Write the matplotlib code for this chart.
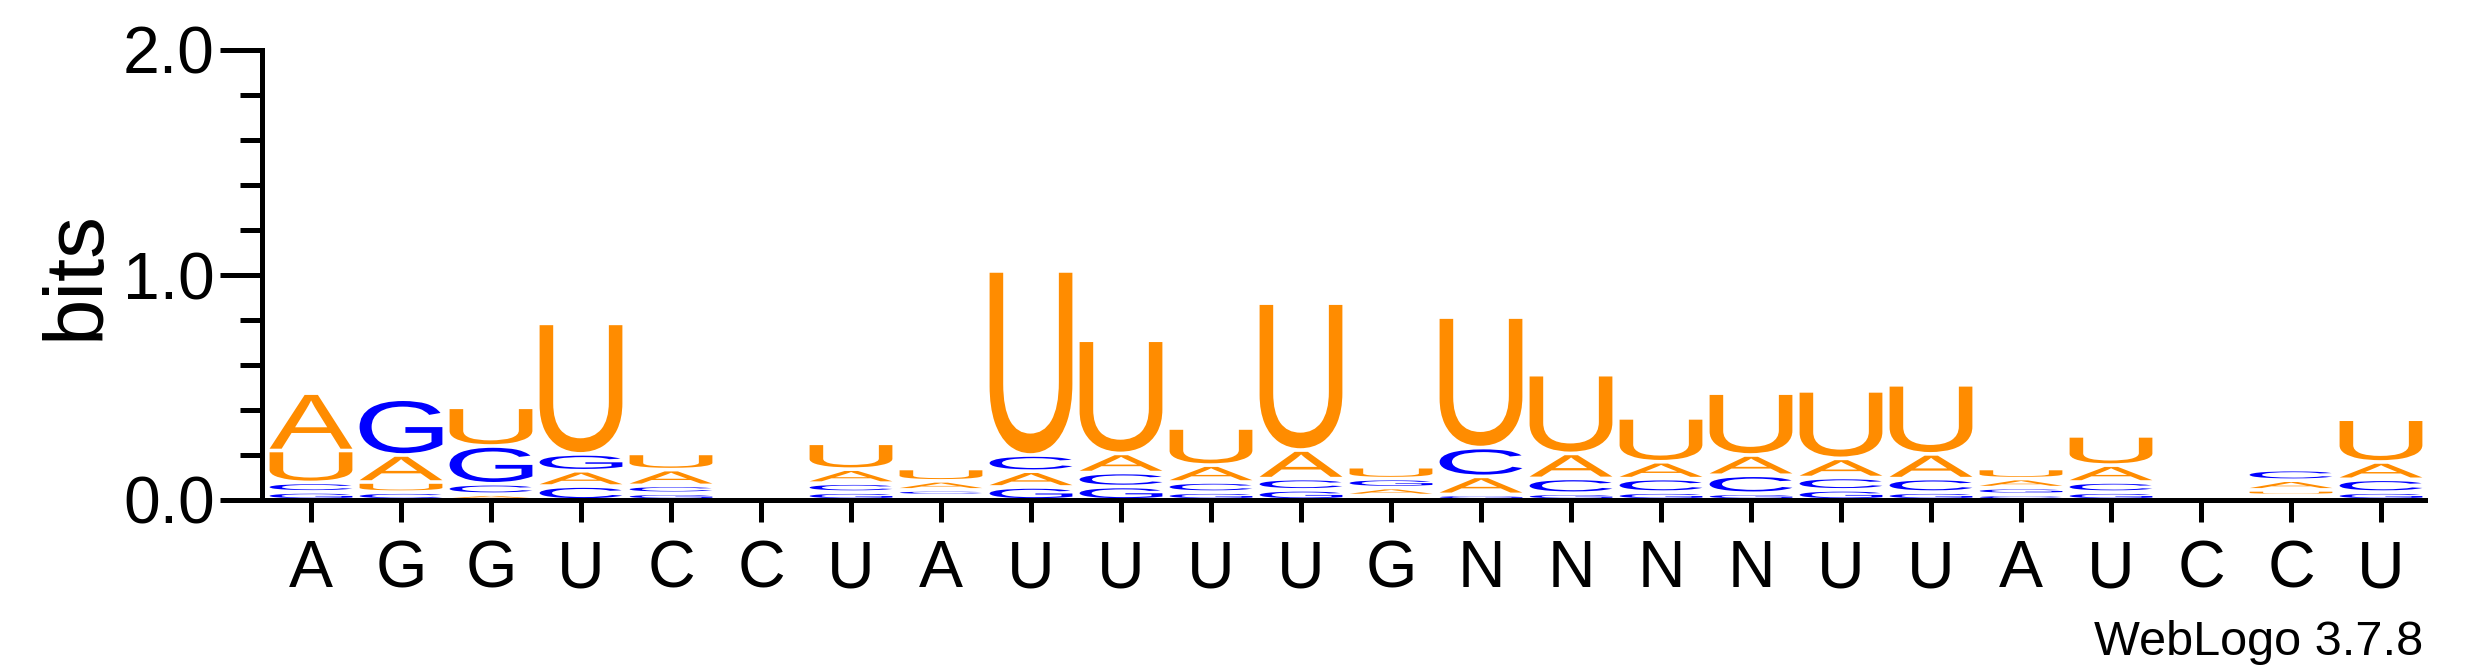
import matplotlib
matplotlib.use('Agg')
import matplotlib.pyplot as plt
from matplotlib.textpath import TextPath
from matplotlib.patches import PathPatch
from matplotlib.font_manager import FontProperties
from matplotlib.transforms import Affine2D
from matplotlib.ticker import MultipleLocator, FormatStrFormatter

plt.rcParams['font.family'] = ['Liberation Sans', 'DejaVu Sans']

# sequence written under the stacks
seq = list('AGGUCCUAUUUUGNNNNUUAUCCU')

# letter heights (bits) per position
bits_A = [0.255, 0.120, 0.026, 0.068, 0.070, 0.022, 0.062, 0.040, 0.070, 0.085, 0.075, 0.127,
          0.035, 0.080, 0.111, 0.075, 0.090, 0.085, 0.110, 0.040, 0.075, 0.022, 0.043, 0.077]
bits_C = [0.042, 0.035, 0.046, 0.062, 0.035, 0.020, 0.040, 0.025, 0.072, 0.062, 0.045, 0.050,
          0.020, 0.128, 0.066, 0.060, 0.080, 0.055, 0.060, 0.025, 0.045, 0.018, 0.047, 0.057]
bits_G = [0.036, 0.248, 0.168, 0.075, 0.030, 0.018, 0.035, 0.020, 0.058, 0.060, 0.035, 0.045,
          0.040, 0.025, 0.030, 0.035, 0.030, 0.045, 0.035, 0.030, 0.035, 0.015, 0.020, 0.035]
bits_U = [0.142, 0.045, 0.172, 0.580, 0.072, 0.020, 0.115, 0.055, 0.818, 0.503, 0.165, 0.653,
          0.053, 0.580, 0.350, 0.195, 0.275, 0.300, 0.307, 0.045, 0.130, 0.020, 0.025, 0.190]

heights = {'A': bits_A, 'C': bits_C, 'G': bits_G, 'U': bits_U}
# base pairing colour scheme
colors = {'A': '#FF8C00', 'U': '#FF8C00', 'C': '#0000FF', 'G': '#0000FF'}

fp = FontProperties(family='Liberation Sans')
glyphs = {ch: TextPath((0, 0), ch, size=1, prop=fp) for ch in 'ACGU'}


def draw_letter(ax, ch, xc, y0, h, width=0.92, pad=0.008):
    bot = y0 + pad
    top = y0 + h - pad
    # too small to show up
    if top - bot < 0.008:
        return
    p = glyphs[ch]
    ext = p.get_extents()
    t = (Affine2D().translate(-ext.x0, -ext.y0)
         .scale(width / ext.width, (top - bot) / ext.height)
         .translate(xc - width / 2, bot))
    ax.add_patch(PathPatch(t.transform_path(p), facecolor=colors[ch],
                           edgecolor='none', lw=0))


fig = plt.figure(figsize=(24.75, 6.67), dpi=100)
W, H = 2475, 667
ax = fig.add_axes([262 / W, 167 / H, (2425 - 262) / W, 450 / H])

n = len(seq)
for i in range(n):
    order = sorted('ACGU', key=lambda c: heights[c][i])
    y = 0.0
    for ch in order:
        draw_letter(ax, ch, i + 1, y, heights[ch][i])
        y += heights[ch][i]

ax.set_xlim(0.4556, 24.489)
ax.set_ylim(0, 2)

ax.spines['top'].set_visible(False)
ax.spines['right'].set_visible(False)
for s in ('left', 'bottom'):
    ax.spines[s].set_linewidth(3.6)
    ax.spines[s].set_capstyle('projecting')

ax.set_xticks(range(1, n + 1))
ax.set_xticklabels(seq)
ax.yaxis.set_major_locator(MultipleLocator(1.0))
ax.yaxis.set_minor_locator(MultipleLocator(0.2))
ax.yaxis.set_major_formatter(FormatStrFormatter('%.1f'))

ax.tick_params(axis='y', which='major', length=30.6, width=3.6, labelsize=47.5, pad=3.5)
ax.tick_params(axis='y', which='minor', length=15.5, width=3.6)
ax.tick_params(axis='x', which='major', length=15.8, width=3.6, labelsize=47.5, pad=12.5)

ax.set_ylabel('bits', fontsize=60, labelpad=5)

fig.text(2423 / W, 12 / H, 'WebLogo 3.7.8', fontsize=35, ha='right', va='baseline')

fig.savefig('out.png', dpi=100)
